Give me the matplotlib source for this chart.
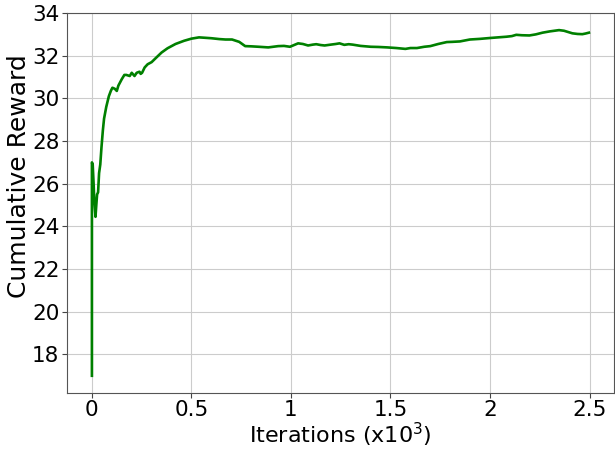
import matplotlib
matplotlib.use('Agg')
import matplotlib.pyplot as plt

# Cumulative reward over training iterations (x1e3)
iters = [
    0, 0, 4, 8, 12, 18, 22, 26, 31, 36, 42, 48, 55, 61, 72, 85, 95, 103,
    115, 125, 133, 150, 163, 173, 190, 200, 214, 225, 239, 245, 252, 265,
    280, 300, 322, 350, 380, 420, 463, 500, 538, 570, 600, 640, 671, 704,
    740, 770, 800, 837, 886, 936, 965, 995, 1036, 1060, 1086, 1110, 1127,
    1150, 1169, 1200, 1225, 1244, 1268, 1290, 1310, 1350, 1401, 1440,
    1484, 1530, 1575, 1600, 1633, 1670, 1700, 1740, 1783, 1810, 1849,
    1899, 1950, 1999, 2040, 2082, 2110, 2132, 2160, 2198, 2230, 2264,
    2300, 2347, 2372, 2414, 2440, 2464, 2480, 2497,
]
reward = [
    17.0, 27.0, 26.9, 26.1, 25.2, 24.45, 25.0, 25.5, 25.6, 26.5, 26.9,
    27.7, 28.5, 29.05, 29.6, 30.1, 30.35, 30.5, 30.45, 30.35, 30.6, 30.9,
    31.1, 31.1, 31.05, 31.2, 31.05, 31.2, 31.25, 31.15, 31.2, 31.45, 31.6,
    31.7, 31.9, 32.15, 32.35, 32.55, 32.7, 32.8, 32.86, 32.84, 32.82,
    32.78, 32.76, 32.76, 32.65, 32.45, 32.44, 32.42, 32.39, 32.45, 32.46,
    32.42, 32.58, 32.55, 32.48, 32.52, 32.54, 32.5, 32.48, 32.52, 32.55,
    32.58, 32.51, 32.54, 32.52, 32.46, 32.42, 32.41, 32.39, 32.36, 32.32,
    32.36, 32.36, 32.42, 32.45, 32.55, 32.64, 32.65, 32.67, 32.76, 32.79,
    32.83, 32.86, 32.89, 32.92, 32.98, 32.96, 32.95, 33.0, 33.08, 33.14,
    33.2, 33.17, 33.05, 33.02, 33.01, 33.04, 33.08,
]
xticks = [0, 0.5, 1, 1.5, 2, 2.5]
xticklabels = ['0', '0.5', '1', '1.5', '2', '2.5']
yticks = [18, 20, 22, 24, 26, 28, 30, 32, 34]

fig = plt.figure(figsize=(6.15, 4.5), dpi=100)
ax = fig.add_axes([0.109, 0.127, 0.89, 0.844])

ax.plot([i / 1000 for i in iters], reward, color='g', lw=1.9)

ax.set_xlim(-0.125, 2.625)
ax.set_ylim(16.2, 34.0)
ax.set_xticks(xticks)
ax.set_xticklabels(xticklabels)
ax.set_yticks(yticks)
ax.tick_params(labelsize=15.5, color='#444444', pad=2)
ax.grid(True, color='#cccccc', lw=0.8)
ax.set_axisbelow(True)
for s in ax.spines.values():
    s.set_color('#555555')

ax.set_xlabel('Iterations (x10$^3$)', fontsize=16, labelpad=0)
ax.set_ylabel('Cumulative Reward', fontsize=18)
ax.yaxis.set_label_coords(-0.066, 0.571)

fig.savefig('out.png', dpi=100)
plt.close('all')
